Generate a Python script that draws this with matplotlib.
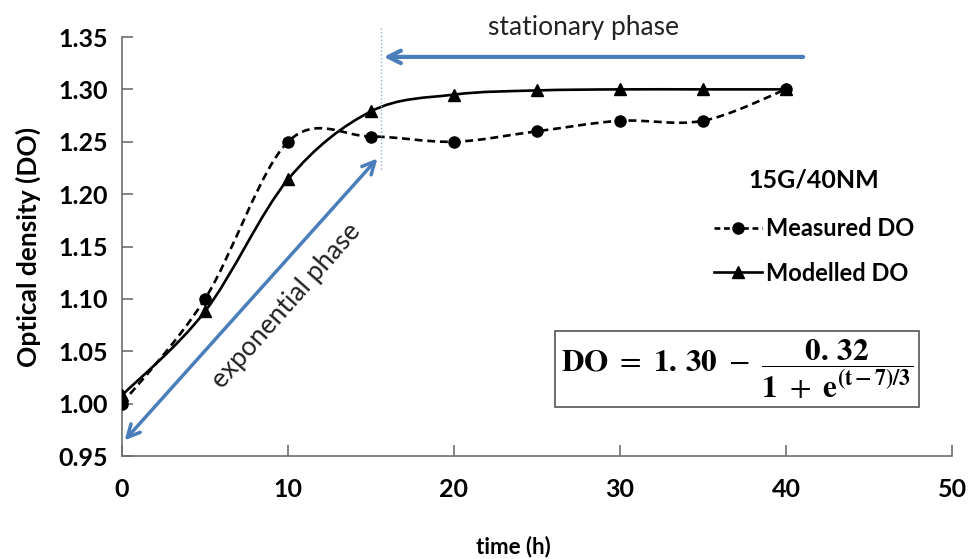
import numpy as np
import matplotlib
matplotlib.use('Agg')
import matplotlib.pyplot as plt
from matplotlib.path import Path
from matplotlib.patches import PathPatch
from matplotlib.lines import Line2D

# values
time_h = [0, 5, 10, 15, 20, 25, 30, 35, 40]
measured_do = [1.000, 1.100, 1.250, 1.255, 1.250, 1.260, 1.270, 1.270, 1.300]
modelled_do = [1.008, 1.088, 1.214, 1.279, 1.295, 1.299, 1.300, 1.300, 1.300]

x_ticks = [0, 10, 20, 30, 40, 50]
y_ticks = [0.95, 1.00, 1.05, 1.10, 1.15, 1.20, 1.25, 1.30, 1.35]

plt.rcParams['font.family'] = ['Lato', 'DejaVu Sans']
plt.rcParams['mathtext.fontset'] = 'stix'

BLUE = '#4a7ebb'


def smooth_path(xs, ys):
    # Excel-like smoothed line: bezier segments with catmull-rom control points
    pts = np.column_stack([xs, ys]).astype(float)
    n = len(pts)
    verts = [pts[0]]
    codes = [Path.MOVETO]
    for i in range(n - 1):
        p_prev = pts[i - 1] if i > 0 else pts[i]
        p_next2 = pts[i + 2] if i + 2 < n else pts[i + 1]
        c1 = pts[i] + (pts[i + 1] - p_prev) / 6.0
        c2 = pts[i + 1] - (p_next2 - pts[i]) / 6.0
        verts += [c1, c2, pts[i + 1]]
        codes += [Path.CURVE4] * 3
    return Path(verts, codes)


fig = plt.figure(figsize=(9.68, 5.59), dpi=100)
ax = fig.add_axes([122 / 968, 1 - 456 / 559, (952 - 122) / 968, (456 - 37) / 559])

ax.add_patch(PathPatch(smooth_path(time_h, measured_do), fill=False, edgecolor='black',
                       lw=1.9, linestyle=(0, (3, 1.8))))
ax.add_patch(PathPatch(smooth_path(time_h, modelled_do), fill=False, edgecolor='black', lw=1.9))
ax.plot(time_h, measured_do, 'o', color='black', ms=8, zorder=3)
ax.plot(time_h, modelled_do, '^', color='black', ms=8, zorder=3)

ax.set_xlim(0, 50)
ax.set_ylim(0.95, 1.35)
ax.set_xticks(x_ticks)
ax.set_yticks(y_ticks)
ax.set_yticklabels([f'{v:.2f}' for v in y_ticks])
for side in ['top', 'right']:
    ax.spines[side].set_visible(False)
for side in ['left', 'bottom']:
    ax.spines[side].set_color('#6e6e6e')
    ax.spines[side].set_linewidth(1.2)
ax.tick_params(direction='in', length=8, width=1.2, color='#6e6e6e',
               labelsize=18, pad=10)
ax.tick_params(axis='x', pad=16)
for lab in ax.get_xticklabels() + ax.get_yticklabels():
    lab.set_fontweight('bold')

ax.set_ylabel('Optical density (DO)', fontsize=19, fontweight='bold')
ax.yaxis.set_label_coords(-0.098, 0.5)
ax.set_xlabel('time (h)', fontsize=16, fontweight='bold')
ax.xaxis.set_label_coords(0.471, -0.19)

# phase annotations
ax.annotate('', xy=(15.6, 1.331), xytext=(41.2, 1.331), annotation_clip=False,
            arrowprops=dict(arrowstyle='->,head_length=0.9,head_width=0.45', color=BLUE, lw=3))
ax.annotate('', xy=(15.5, 1.236), xytext=(0.05, 0.963),
            arrowprops=dict(arrowstyle='<->,head_length=0.9,head_width=0.45', color=BLUE, lw=2.5))
ax.plot([15.6, 15.6], [1.359, 1.222], ls=':', color='#8fb0dc', lw=1, clip_on=False)
ax.text(27.8, 1.359, 'stationary phase', fontsize=19, ha='center', va='center', color='#222222')
ax.text(9.9, 1.093, 'exponential phase', fontsize=19, ha='center', va='center', rotation=48.5,
        color='#222222')

legend_handles = [
    Line2D([], [], color='black', lw=1.9, ls=(0, (2.2, 1.4)), marker='o', ms=8),
    Line2D([], [], color='black', lw=1.9, marker='^', ms=8),
]
ax.text(41.7, 1.2135, '15G/40NM', fontsize=18, fontweight='bold', ha='center', va='center')
ax.legend(legend_handles, ['Measured DO', 'Modelled DO'], loc='upper left',
          bbox_to_anchor=(0.688, 0.62), frameon=False, handlelength=2.0, handletextpad=0.2,
          labelspacing=0.9, prop={'size': 17, 'weight': 'bold'})

ax.text(37.05, 1.033,
        r'$\mathbf{DO}\ =\ \mathbf{1.\,30}\ -\ \dfrac{\mathbf{0.\,32}}{\mathbf{1}\ +\ \mathbf{e}^{\mathbf{(t-7)/3}}}$',
        fontsize=22.5, ha='center', va='center',
        bbox=dict(boxstyle='square,pad=0.2', facecolor='white', edgecolor='#555555', lw=1.2))

fig.savefig('out.png', dpi=100)
